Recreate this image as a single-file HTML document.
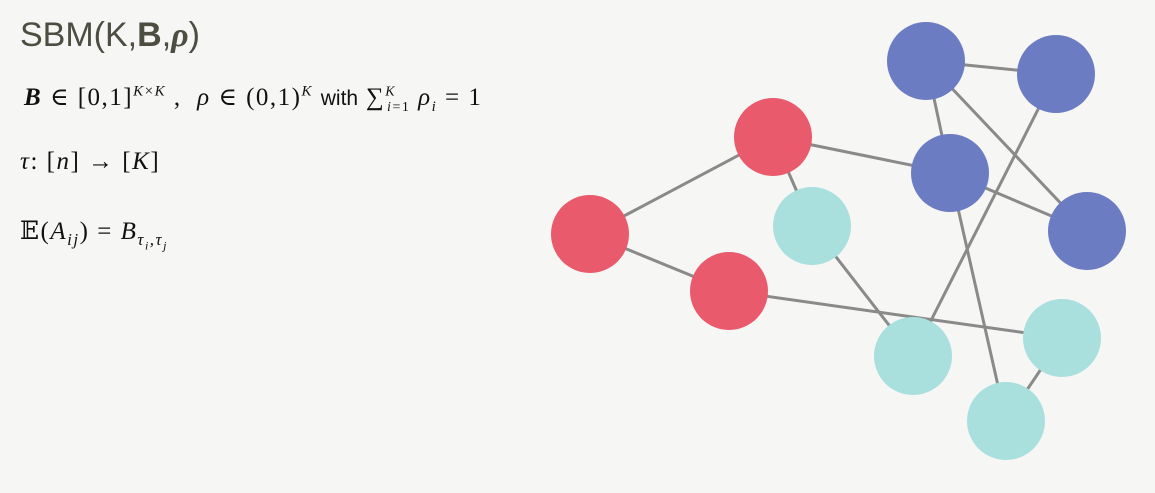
<!DOCTYPE html>
<html><head><meta charset="utf-8"><style>
body{margin:0;width:1155px;height:493px;background:#f6f6f5;overflow:hidden;font-family:"Liberation Sans",sans-serif;position:relative}
.t{position:absolute;color:#111;white-space:nowrap}
.m{font-family:"Liberation Serif","DejaVu Serif",serif;font-size:25px;letter-spacing:1.5px}
i{font-style:italic}
</style></head><body>
<div class="t" style="left:20px;top:16px;font-size:34px;color:#4d4d42">SBM(K,<b>B</b>,<b><i style="font-family:'Liberation Serif',serif">ρ</i></b>)</div>
<div class="t m" style="left:24px;top:82px"><b><i>B</i></b> ∈ [0,1]<sup style="font-size:15px"><i>K</i>×<i>K</i></sup> , &nbsp;<i>ρ</i> ∈ (0,1)<sup style="font-size:15px"><i>K</i></sup> <span style="font-family:'Liberation Sans',sans-serif;font-size:21px;letter-spacing:0">with</span> ∑<sup style="font-size:14px"><i>K</i></sup><sub style="font-size:14px;margin-left:-9px"><i>i</i>=1</sub> <i>ρ<sub style="font-size:15px">i</sub></i> = 1</div>
<div class="t m" style="left:20px;top:148px"><i>τ</i>: [<i>n</i>] → [<i>K</i>]</div>
<div class="t m" style="left:20px;top:216px">𝔼(<i>A<sub style="font-size:17px">ij</sub></i>) = <i>B<sub style="font-size:17px">τ<sub style="font-size:12px">i</sub>,τ<sub style="font-size:12px">j</sub></sub></i></div>
<svg id="g" width="1155" height="493" style="position:absolute;left:0;top:0"></svg>
<script>
const nodeX=[590,773,729,812,913,1062,1006,926,1056,950,1087];
const nodeY=[234,137,291,226,356,338,421,61,74,173,231];
const nodeGroup=[0,0,0,1,1,1,1,2,2,2,2];
const edges=[[0,1],[0,2],[1,3],[1,9],[2,5],[3,4],[4,8],[5,6],[7,8],[7,9],[7,10],[9,10],[9,6]];
const colors=["#e95a6c","#a9dfdd","#6b7cc2"];
const ns="http://www.w3.org/2000/svg",svg=document.getElementById('g');
edges.forEach((e,k)=>{const l=document.createElementNS(ns,'line');
l.setAttribute('x1',nodeX[e[0]]);l.setAttribute('y1',nodeY[e[0]]);l.setAttribute('x2',nodeX[e[1]]);l.setAttribute('y2',nodeY[e[1]]);
l.setAttribute('stroke','#8a8a8a');l.setAttribute('stroke-width','3');


svg.appendChild(l);});
nodeX.forEach((x,i)=>{const c=document.createElementNS(ns,'circle');
c.setAttribute('cx',x);c.setAttribute('cy',nodeY[i]);c.setAttribute('r',39);c.setAttribute('fill',colors[nodeGroup[i]]);


svg.appendChild(c);});
</script>
</body></html>
